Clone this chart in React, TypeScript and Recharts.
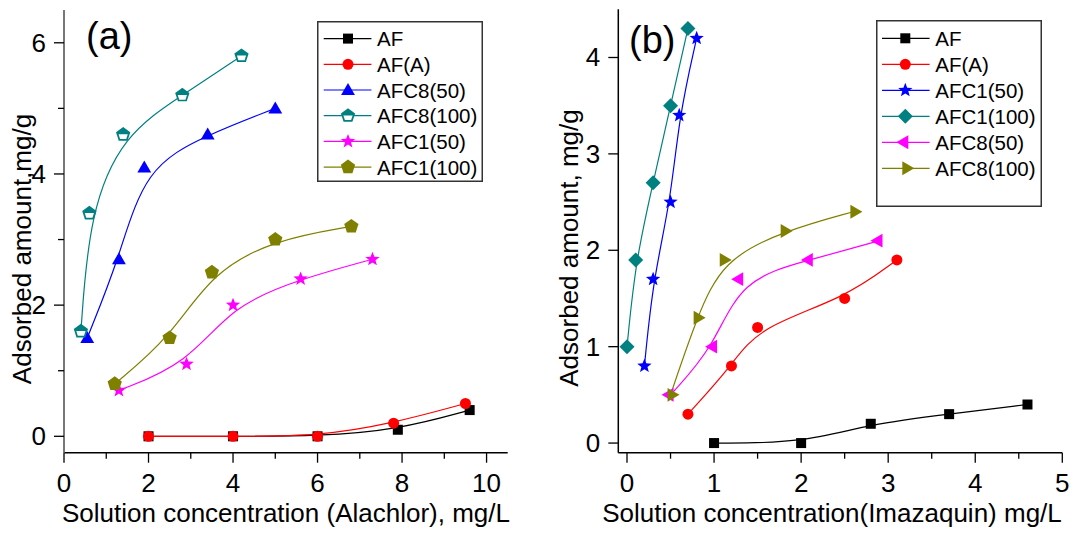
import React from 'react';
import { LineChart, Line, XAxis, YAxis, Legend } from 'recharts';

const FONT = '"Liberation Sans", Arial, Helvetica, sans-serif';

// ---------- Panel (a): Alachlor ----------
const aAF = [
  { x: 2, y: 0 }, { x: 4, y: 0 }, { x: 6, y: 0 }, { x: 7.9, y: 0.1 }, { x: 9.6, y: 0.4 },
];
const aAFA = [
  { x: 2, y: 0 }, { x: 4, y: 0 }, { x: 6, y: 0 }, { x: 7.8, y: 0.2 }, { x: 9.5, y: 0.5 },
];
const aAFC8_50 = [
  { x: 0.55, y: 1.5 }, { x: 1.3, y: 2.7 }, { x: 1.9, y: 4.1 }, { x: 3.4, y: 4.6 }, { x: 5.0, y: 5.0 },
];
const aAFC8_100 = [
  { x: 0.4, y: 1.6 }, { x: 0.6, y: 3.4 }, { x: 1.4, y: 4.6 }, { x: 2.8, y: 5.2 }, { x: 4.2, y: 5.8 },
];
const aAFC1_50 = [
  { x: 1.3, y: 0.7 }, { x: 2.9, y: 1.1 }, { x: 4.0, y: 2.0 }, { x: 5.6, y: 2.4 }, { x: 7.3, y: 2.7 },
];
const aAFC1_100 = [
  { x: 1.2, y: 0.8 }, { x: 2.5, y: 1.5 }, { x: 3.5, y: 2.5 }, { x: 5.0, y: 3.0 }, { x: 6.8, y: 3.2 },
];

// ---------- Panel (b): Imazaquin ----------
const bAF = [
  { x: 1, y: 0 }, { x: 2, y: 0 }, { x: 2.8, y: 0.2 }, { x: 3.7, y: 0.3 }, { x: 4.6, y: 0.4 },
];
const bAFA = [
  { x: 0.7, y: 0.3 }, { x: 1.2, y: 0.8 }, { x: 1.5, y: 1.2 }, { x: 2.5, y: 1.5 }, { x: 3.1, y: 1.9 },
];
const bAFC1_50 = [
  { x: 0.2, y: 0.8 }, { x: 0.3, y: 1.7 }, { x: 0.5, y: 2.5 }, { x: 0.6, y: 3.4 }, { x: 0.8, y: 4.2 },
];
const bAFC1_100 = [
  { x: 0, y: 1.0 }, { x: 0.1, y: 1.9 }, { x: 0.3, y: 2.7 }, { x: 0.5, y: 3.5 }, { x: 0.7, y: 4.3 },
];
const bAFC8_50 = [
  { x: 0.5, y: 0.5 }, { x: 1.0, y: 1.0 }, { x: 1.3, y: 1.7 }, { x: 2.1, y: 1.9 }, { x: 2.9, y: 2.1 },
];
const bAFC8_100 = [
  { x: 0.5, y: 0.5 }, { x: 0.8, y: 1.3 }, { x: 1.1, y: 1.9 }, { x: 1.8, y: 2.2 }, { x: 2.6, y: 2.4 },
];

// ---------- ticks ----------
const aXTicks = [0, 1, 2, 3, 4, 5, 6, 7, 8, 9, 10];
const aXMajor = [0, 2, 4, 6, 8, 10];
const aYTicks = [0, 1, 2, 3, 4, 5, 6];
const aYMajor = [0, 2, 4, 6];
const bXTicks = [0, 0.5, 1, 1.5, 2, 2.5, 3, 3.5, 4, 4.5, 5];
const bXMajor = [0, 1, 2, 3, 4, 5];
const bYTicks = [0, 1, 2, 3, 4];
const bYMajor = [0, 1, 2, 3, 4];

type Shape = 'square' | 'circle' | 'triUp' | 'pentOpen' | 'star' | 'pent' | 'diamond' | 'triLeft' | 'triRight';

const seriesA = [
  { name: 'AF', data: aAF, color: '#000000', shape: 'square' as Shape },
  { name: 'AF(A)', data: aAFA, color: '#FF0000', shape: 'circle' as Shape },
  { name: 'AFC8(50)', data: aAFC8_50, color: '#0000FF', shape: 'triUp' as Shape },
  { name: 'AFC8(100)', data: aAFC8_100, color: '#008080', shape: 'pentOpen' as Shape },
  { name: 'AFC1(50)', data: aAFC1_50, color: '#FF00FF', shape: 'star' as Shape },
  { name: 'AFC1(100)', data: aAFC1_100, color: '#808000', shape: 'pent' as Shape },
];

const seriesB = [
  { name: 'AF', data: bAF, color: '#000000', shape: 'square' as Shape },
  { name: 'AF(A)', data: bAFA, color: '#FF0000', shape: 'circle' as Shape },
  { name: 'AFC1(50)', data: bAFC1_50, color: '#0000FF', shape: 'star' as Shape },
  { name: 'AFC1(100)', data: bAFC1_100, color: '#008080', shape: 'diamond' as Shape },
  { name: 'AFC8(50)', data: bAFC8_50, color: '#FF00FF', shape: 'triLeft' as Shape },
  { name: 'AFC8(100)', data: bAFC8_100, color: '#808000', shape: 'triRight' as Shape },
];

function poly(cx: number, cy: number, n: number, r: number, start: number) {
  const pts: string[] = [];
  for (let i = 0; i < n; i++) {
    const a = start + (i * 2 * Math.PI) / n;
    pts.push(`${cx + r * Math.cos(a)},${cy + r * Math.sin(a)}`);
  }
  return pts.join(' ');
}

function starPts(cx: number, cy: number, ro: number, ri: number) {
  const pts: string[] = [];
  for (let i = 0; i < 10; i++) {
    const a = -Math.PI / 2 + (i * Math.PI) / 5;
    const r = i % 2 === 0 ? ro : ri;
    pts.push(`${cx + r * Math.cos(a)},${cy + r * Math.sin(a)}`);
  }
  return pts.join(' ');
}

function Marker({ cx, cy, shape, color }: { cx: number; cy: number; shape: Shape; color: string }) {
  switch (shape) {
    case 'square':
      return <rect x={cx - 5} y={cy - 5} width={10} height={10} fill={color} />;
    case 'circle':
      return <circle cx={cx} cy={cy} r={5.5} fill={color} />;
    case 'triUp':
      return <polygon points={poly(cx, cy + 1, 3, 8, -Math.PI / 2)} fill={color} />;
    case 'triLeft':
      return <polygon points={poly(cx - 1, cy, 3, 8, Math.PI)} fill={color} />;
    case 'triRight':
      return <polygon points={poly(cx + 1, cy, 3, 8, 0)} fill={color} />;
    case 'diamond':
      return <polygon points={poly(cx, cy, 4, 7.5, -Math.PI / 2)} fill={color} />;
    case 'star':
      return <polygon points={starPts(cx, cy, 7.5, 3.2)} fill={color} />;
    case 'pent':
      return <polygon points={poly(cx, cy, 5, 7.5, -Math.PI / 2)} fill={color} />;
    case 'pentOpen':
      return (
        <g>
          <polygon points={poly(cx, cy, 5, 7.5, -Math.PI / 2)} fill={color} />
          <polygon
            points={`${cx - 4.6},${cy - 0.3} ${cx + 4.6},${cy - 0.3} ${cx + 3.1},${cy + 4.4} ${cx - 3.1},${cy + 4.4}`}
            fill="#ffffff"
          />
        </g>
      );
    default:
      return null;
  }
}

function near(list: number[], v: number) {
  return list.some((m) => Math.abs(m - v) < 1e-6);
}

function XTick(props: any) {
  const { x, y, payload, majors } = props;
  const v = payload.value as number;
  const major = near(majors, v);
  return (
    <g>
      <line x1={x} x2={x} y1={y} y2={y + (major ? 10 : 6)} stroke="#000" strokeWidth={1.3} />
      {major && (
        <text x={x} y={y + 39} textAnchor="middle" fontSize={26} fontFamily={FONT} fill="#000">
          {String(v)}
        </text>
      )}
    </g>
  );
}

function YTick(props: any) {
  const { x, y, payload, majors } = props;
  const v = payload.value as number;
  const major = near(majors, v);
  return (
    <g>
      <line x1={x} x2={x - (major ? 10 : 6)} y1={y} y2={y} stroke="#000" strokeWidth={1.3} />
      {major && (
        <text x={x - 18} y={y + 9} textAnchor="end" fontSize={26} fontFamily={FONT} fill="#000">
          {String(v)}
        </text>
      )}
    </g>
  );
}

function TopTick(props: any) {
  const { x, y } = props;
  return <line x1={x} x2={x} y1={y} y2={y - 3} stroke="#444" strokeWidth={1} />;
}

function RightTick(props: any) {
  const { x, y } = props;
  return <line x1={x} x2={x + 3} y1={y} y2={y} stroke="#444" strokeWidth={1} />;
}

function makeLegend(series: typeof seriesA, w: number, h: number, rowStart: number, rowStep: number, lx1: number, lx2: number, mx: number, tx: number) {
  return () => (
    <svg width={w} height={h} style={{ display: 'block' }}>
      <rect x={0.75} y={0.75} width={w - 1.5} height={h - 1.5} fill="#fff" stroke="#333" strokeWidth={1.5} />
      {series.map((s, i) => {
        const yy = rowStart + i * rowStep;
        return (
          <g key={s.name}>
            <line x1={lx1} x2={lx2} y1={yy} y2={yy} stroke={s.color} strokeWidth={1.2} />
            <Marker cx={mx} cy={yy} shape={s.shape} color={s.color} />
            <text x={tx} y={yy + 7.5} fontSize={20.5} fontFamily={FONT} fill="#000">
              {s.name}
            </text>
          </g>
        );
      })}
    </svg>
  );
}

function renderDot(shape: Shape, color: string) {
  return (p: any) => <Marker key={`d-${p.index}`} cx={p.cx} cy={p.cy} shape={shape} color={color} />;
}

function YLabel({ x, y, text }: { x: number; y: number; text: string }) {
  return (
    <text
      x={x}
      y={y}
      transform={`rotate(-90 ${x} ${y})`}
      textAnchor="middle"
      fontSize={26}
      fontFamily={FONT}
      fill="#000"
    >
      {text}
    </text>
  );
}

const legendA = makeLegend(seriesA, 166, 161, 17.6, 25.7, 6.7, 54.4, 31, 60);
const legendB = makeLegend(seriesB, 166, 187, 18.3, 26, 6, 53.6, 29.3, 59.3);

export default function App() {
  return (
    <div style={{ position: 'absolute', left: 0, top: 0, width: 1074, height: 539, background: '#fff', overflow: 'hidden' }}>
      {/* Panel (a) */}
      <div style={{ position: 'absolute', left: 0, top: 0 }}>
        <LineChart width={537} height={539} margin={{ top: 10, right: 29.3, bottom: 0, left: 0 }}>
          <XAxis
            xAxisId="b"
            dataKey="x"
            type="number"
            domain={[0, 10.5]}
            allowDataOverflow
            ticks={aXTicks}
            interval={0}
            height={86.3}
            tickSize={0}
            tickMargin={0}
            tickLine={false}
            axisLine={{ stroke: '#000', strokeWidth: 1.5 }}
            tick={<XTick majors={aXMajor} />}
            label={() => (
              <text x={286} y={522} textAnchor="middle" fontSize={26} fontFamily={FONT} fill="#000">
                Solution concentration (Alachlor), mg/L
              </text>
            )}
          />
          <XAxis
            xAxisId="t"
            orientation="top"
            dataKey="x"
            type="number"
            domain={[0, 10.5]}
            allowDataOverflow
            ticks={aXTicks}
            interval={0}
            height={0}
            tickSize={0}
            tickMargin={0}
            tickLine={false}
            axisLine={{ stroke: '#444', strokeWidth: 1.5 }}
            tick={<TopTick />}
          />
          <YAxis
            yAxisId="l"
            type="number"
            domain={[-0.25, 6.5]}
            allowDataOverflow
            ticks={aYTicks}
            interval={0}
            width={64}
            tickSize={0}
            tickMargin={0}
            tickLine={false}
            axisLine={{ stroke: '#777', strokeWidth: 2 }}
            tick={<YTick majors={aYMajor} />}
            label={() => <YLabel x={31} y={249} text="Adsorbed amount,mg/g" />}
          />
          <YAxis
            yAxisId="r"
            orientation="right"
            type="number"
            domain={[-0.25, 6.5]}
            allowDataOverflow
            ticks={aYTicks}
            interval={0}
            width={0}
            tickSize={0}
            tickMargin={0}
            tickLine={false}
            axisLine={{ stroke: '#444', strokeWidth: 1.5 }}
            tick={<RightTick />}
          />
          {seriesA.map((s) => (
            <Line
              key={s.name}
              xAxisId="b"
              yAxisId="l"
              data={s.data}
              dataKey="y"
              name={s.name}
              type="basis"
              stroke={s.color}
              strokeWidth={1.2}
              dot={renderDot(s.shape, s.color)}
              activeDot={false}
              isAnimationActive={false}
            />
          ))}
          <Legend
            layout="horizontal"
            verticalAlign="middle"
            align="center"
            content={legendA}
            wrapperStyle={{ position: 'absolute', left: 317.3, top: 20.7, width: 166, height: 161 }}
          />
        </LineChart>
        <div style={{ position: 'absolute', left: 86, top: 13, fontFamily: FONT, fontSize: 38, lineHeight: '46px', color: '#000' }}>(a)</div>
      </div>

      {/* Panel (b) */}
      <div style={{ position: 'absolute', left: 537, top: 0 }}>
        <LineChart width={537} height={539} margin={{ top: 9.3, right: 11.7, bottom: 0, left: 0 }}>
          <XAxis
            xAxisId="b"
            dataKey="x"
            type="number"
            domain={[-0.1, 5]}
            allowDataOverflow
            ticks={bXTicks}
            interval={0}
            height={86.3}
            tickSize={0}
            tickMargin={0}
            tickLine={false}
            axisLine={{ stroke: '#000', strokeWidth: 1.5 }}
            tick={<XTick majors={bXMajor} />}
            label={() => (
              <text x={295} y={522} textAnchor="middle" fontSize={26} fontFamily={FONT} fill="#000">
                Solution concentration(Imazaquin) mg/L
              </text>
            )}
          />
          <XAxis
            xAxisId="t"
            orientation="top"
            dataKey="x"
            type="number"
            domain={[-0.1, 5]}
            allowDataOverflow
            ticks={bXTicks}
            interval={0}
            height={0}
            tickSize={0}
            tickMargin={0}
            tickLine={false}
            axisLine={{ stroke: '#444', strokeWidth: 1.5 }}
            tick={<TopTick />}
          />
          <YAxis
            yAxisId="l"
            type="number"
            domain={[-0.1, 4.5]}
            allowDataOverflow
            ticks={bYTicks}
            interval={0}
            width={81.3}
            tickSize={0}
            tickMargin={0}
            tickLine={false}
            axisLine={{ stroke: '#000', strokeWidth: 1.5 }}
            tick={<YTick majors={bYMajor} />}
            label={() => <YLabel x={41} y={248} text="Adsorbed amount, mg/g" />}
          />
          <YAxis
            yAxisId="r"
            orientation="right"
            type="number"
            domain={[-0.1, 4.5]}
            allowDataOverflow
            ticks={bYTicks}
            interval={0}
            width={0}
            tickSize={0}
            tickMargin={0}
            tickLine={false}
            axisLine={{ stroke: '#444', strokeWidth: 1.5 }}
            tick={<RightTick />}
          />
          {seriesB.map((s) => (
            <Line
              key={s.name}
              xAxisId="b"
              yAxisId="l"
              data={s.data}
              dataKey="y"
              name={s.name}
              type="basis"
              stroke={s.color}
              strokeWidth={1.2}
              dot={renderDot(s.shape, s.color)}
              activeDot={false}
              isAnimationActive={false}
            />
          ))}
          <Legend
            layout="horizontal"
            verticalAlign="middle"
            align="center"
            content={legendB}
            wrapperStyle={{ position: 'absolute', left: 338.7, top: 20, width: 166, height: 187 }}
          />
        </LineChart>
        <div style={{ position: 'absolute', left: 92, top: 17, fontFamily: FONT, fontSize: 38, lineHeight: '46px', color: '#000' }}>(b)</div>
      </div>
    </div>
  );
}
